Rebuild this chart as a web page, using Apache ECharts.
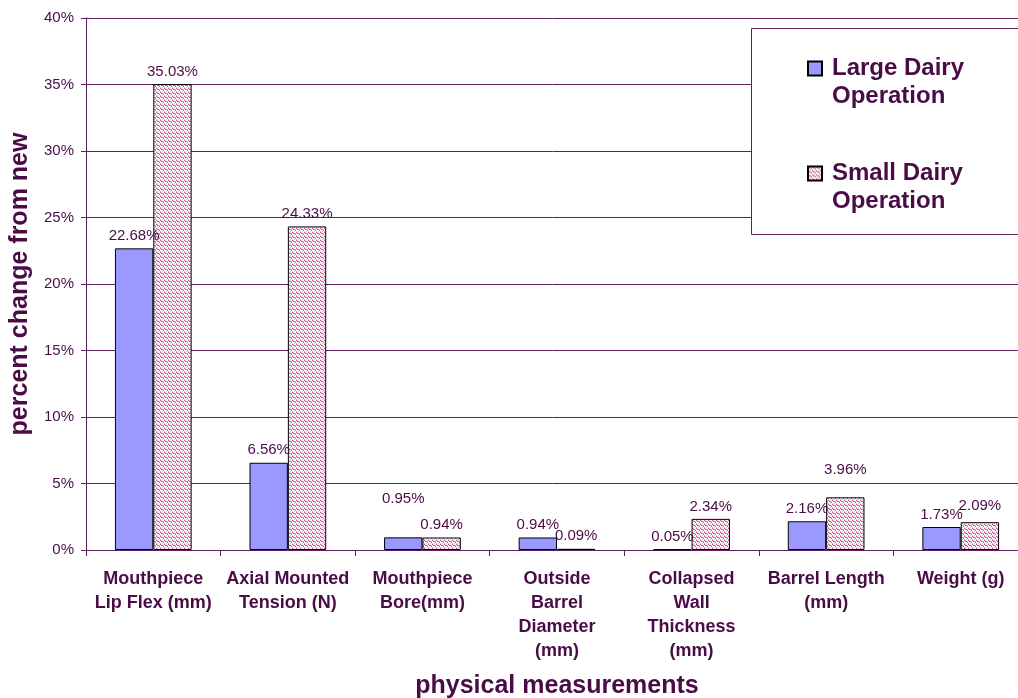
<!DOCTYPE html>
<html>
<head>
<meta charset="utf-8">
<script src="https://cdn.jsdelivr.net/npm/echarts@6/dist/echarts.min.js"></script>
<style>
  html, body { margin: 0; padding: 0; background: #ffffff; overflow: hidden; }
  #chart { width: 1018px; height: 698px; }
</style>
</head>
<body>
<div id="chart"></div>
<script>
// Measurements compared (axis labels, with their line breaks)
const categories = [
  'Mouthpiece\nLip Flex (mm)',
  'Axial Mounted\nTension (N)',
  'Mouthpiece\nBore(mm)',
  'Outside\nBarrel\nDiameter\n(mm)',
  'Collapsed\nWall\nThickness\n(mm)',
  'Barrel Length\n(mm)',
  'Weight (g)'
];

// Percent change from new, per operation size
const largeDairy = [22.68, 6.56, 0.95, 0.94, 0.05, 2.16, 1.73];
const smallDairy = [35.03, 24.33, 0.94, 0.09, 2.34, 3.96, 2.09];

// Value axis range (percent)
const yMin = 0, yMax = 40, yStep = 5;

// Extra upward nudge (px) for a few value labels
const largeLabelLift = [0, 0, 26, 0, 0, 0, 0];
const smallLabelLift = [0, 0, 0, 0, 0, 15, 4];

const INK = '#4a0c47';
const RULE = '#5e1f5b';

// Small pink stipple used to fill the second series
function stipple() {
  const c = document.createElement('canvas');
  c.width = 4; c.height = 4;
  const g = c.getContext('2d');
  g.fillStyle = '#ffffff';
  g.fillRect(0, 0, 4, 4);
  g.fillStyle = '#cc5c96';
  [[0, 0], [1, 1], [2, 1], [3, 2]].forEach(p => g.fillRect(p[0], p[1], 1, 1));
  g.fillStyle = '#e9b8d0';
  [[1, 0], [0, 3], [2, 3], [3, 1]].forEach(p => g.fillRect(p[0], p[1], 1, 1));
  return c;
}

function withLabels(values, lifts) {
  return values.map((v, i) => ({
    value: v,
    label: { offset: [0, -lifts[i]] }
  }));
}

const chart = echarts.init(document.getElementById('chart'), null, { renderer: 'canvas' });

const labelStyle = {
  show: true,
  position: 'top',
  distance: 5,
  color: INK,
  fontSize: 15,
  formatter: p => p.value.toFixed(2) + '%'
};

chart.setOption({
  animation: false,
  backgroundColor: '#ffffff',
  textStyle: { fontFamily: '"Liberation Sans", Arial, sans-serif' },
  // plot area runs slightly past the right edge of the canvas
  grid: {
    left: 86, right: -10, top: 18, bottom: 148,
    containLabel: false,
    outerBoundsMode: 'none'
  },
  graphic: [{
    type: 'rect',
    z: 3,
    shape: { x: 751.5, y: 28.5, width: 300, height: 206 },
    style: { fill: '#ffffff', stroke: RULE, lineWidth: 1 }
  }],
  legend: {
    z: 10,
    orient: 'vertical',
    left: 807,
    top: 25,
    padding: 0,
    itemGap: 18,
    itemWidth: 14,
    itemHeight: 14,
    icon: 'rect',
    data: ['Large Dairy Operation', 'Small Dairy Operation'],
    // blank first line keeps the icon level with the first word line
    formatter: n => '\n' + n.replace(' Operation', '\nOperation'),
    textStyle: {
      color: INK,
      fontWeight: 'bold',
      fontSize: 24,
      lineHeight: 28,
      padding: [3, 0, 0, 5]
    }
  },
  xAxis: {
    type: 'category',
    data: categories,
    name: 'physical measurements',
    nameLocation: 'middle',
    nameGap: 124,
    nameTextStyle: { color: INK, fontWeight: 'bold', fontSize: 25 },
    axisLine: { lineStyle: { color: RULE, width: 1 } },
    axisTick: { show: true, alignWithLabel: false, length: 6, lineStyle: { color: RULE } },
    axisLabel: {
      interval: 0,
      margin: 17,
      color: INK,
      fontWeight: 'bold',
      fontSize: 18,
      lineHeight: 24,
      align: 'center'
    },
    splitLine: { show: false }
  },
  yAxis: {
    type: 'value',
    min: yMin,
    max: yMax,
    interval: yStep,
    name: 'percent change from new',
    nameLocation: 'middle',
    nameGap: 47,
    nameTextStyle: { color: INK, fontWeight: 'bold', fontSize: 25 },
    axisLine: { show: true, lineStyle: { color: RULE, width: 1 } },
    axisTick: { show: true, length: 5, lineStyle: { color: RULE } },
    axisLabel: {
      color: INK,
      fontSize: 15,
      margin: 12,
      formatter: '{value}%'
    },
    splitLine: { show: true, lineStyle: { color: RULE, width: 1 } }
  },
  series: [
    {
      name: 'Large Dairy Operation',
      type: 'bar',
      barGap: '0%',
      barCategoryGap: '43%',
      data: withLabels(largeDairy, largeLabelLift),
      itemStyle: { color: '#9999ff', borderColor: '#000000', borderWidth: 1 },
      label: labelStyle
    },
    {
      name: 'Small Dairy Operation',
      type: 'bar',
      data: withLabels(smallDairy, smallLabelLift),
      itemStyle: {
        color: { image: stipple(), repeat: 'repeat' },
        borderColor: '#000000',
        borderWidth: 1
      },
      label: labelStyle
    }
  ]
});
</script>
</body>
</html>
